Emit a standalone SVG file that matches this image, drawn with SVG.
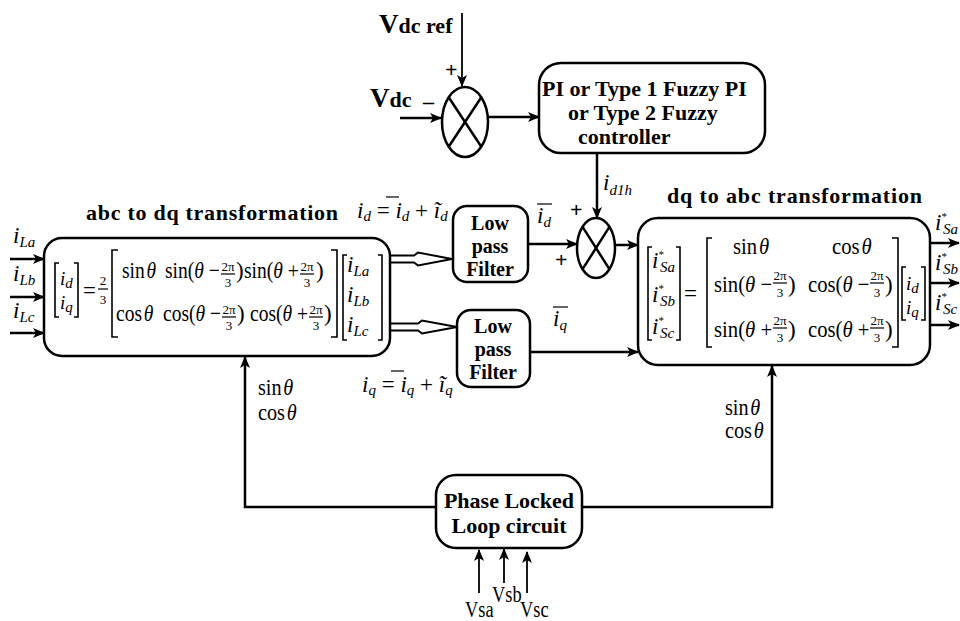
<svg xmlns="http://www.w3.org/2000/svg" width="960" height="621" viewBox="0 0 960 621">
<style>
text { font-family: "Liberation Serif", "Times New Roman", serif; fill: #000; }
.b { font-weight: bold; font-size: 22px; }
.f { font-weight: bold; font-size: 20px; text-anchor: middle; }
.m { font-size: 23px; }
.v { font-size: 19px; }
.i { font-style: italic; }
.s { font-size: 15px; font-style: italic; }
.fr { font-size: 13px; text-anchor: middle; }
.bx { fill: #fff; stroke: #000; stroke-width: 2.5; }
.ln { fill: none; stroke: #000; stroke-width: 2.5; }
.th { fill: none; stroke: #000; stroke-width: 1.8; }
.br { fill: none; stroke: #000; stroke-width: 1.6; }
.fb { stroke: #000; stroke-width: 1.2; }
.ho { fill: #fff; stroke: #000; stroke-width: 2; }
</style>
<defs>
<marker id="ah" viewBox="0 0 12 10" refX="11" refY="5" markerWidth="12" markerHeight="10" markerUnits="userSpaceOnUse" orient="auto">
<path d="M0,0 L12,5 L0,10 L3,5 Z" fill="#000"/>
</marker>
</defs>

<g id="connectors">
<path class="th" d="M462,13 V86" marker-end="url(#ah)"/>
<path class="ln" d="M400,118 H441" marker-end="url(#ah)"/>
<path class="ln" d="M488,117 H539" marker-end="url(#ah)"/>
<path class="ln" d="M597,153 V218" marker-end="url(#ah)"/>
<path class="ln" d="M528,244 H577" marker-end="url(#ah)"/>
<path class="ln" d="M615,245 H638" marker-end="url(#ah)"/>
<path class="ln" d="M530,352 H638" marker-end="url(#ah)"/>
<path class="ho" d="M391,255.5 H414 L418,252.5 L452,259 L418,265.5 L414,262.5 H391"/>
<path class="ho" d="M391,323.5 H418 L422,320.5 L457,327 L422,333.5 L418,330.5 H391"/>
<path class="ln" d="M10,259 H44" marker-end="url(#ah)"/>
<path class="ln" d="M10,297 H44" marker-end="url(#ah)"/>
<path class="ln" d="M10,333 H44" marker-end="url(#ah)"/>
<path class="ln" d="M930,243 H959" marker-end="url(#ah)"/>
<path class="ln" d="M930,283 H959" marker-end="url(#ah)"/>
<path class="ln" d="M930,325 H959" marker-end="url(#ah)"/>
<path class="ln" d="M436,507 H245 V357" marker-end="url(#ah)"/>
<path class="ln" d="M582,507 H772 V366" marker-end="url(#ah)"/>
<path class="th" d="M479,593 V550" marker-end="url(#ah)"/>
<path class="th" d="M504,583 V549" marker-end="url(#ah)"/>
<path class="th" d="M527,593 V552" marker-end="url(#ah)"/>
</g>

<g id="vdc-ref">
<text x="379" y="33" class="b"><tspan font-size="27">V</tspan><tspan font-size="22">dc ref</tspan></text>
</g>

<g id="vdc">
<text x="370" y="107" class="b"><tspan font-size="27">V</tspan><tspan font-size="22">dc</tspan></text>
</g>

<g id="sum1">
<ellipse cx="465" cy="122" rx="23" ry="35" class="ln"/>
<line x1="448.7" y1="97.3" x2="481.3" y2="146.7" class="ln"/>
<line x1="448.7" y1="146.7" x2="481.3" y2="97.3" class="ln"/>
<text x="445" y="77" class="b" font-size="22">+</text>
<text x="423" y="109" class="b" font-size="20">–</text>
</g>

<g id="controller">
<rect x="539" y="63" width="226" height="90" rx="22" class="bx" stroke-width="3"/>
<text x="542" y="96" class="b">PI or  Type 1 Fuzzy PI</text>
<text x="568" y="120" class="b">or Type 2 Fuzzy</text>
<text x="578" y="144" class="b">controller</text>
</g>

<g id="sum2">
<ellipse cx="596" cy="248" rx="19" ry="30" class="ln"/>
<line x1="582.6" y1="226.8" x2="609.4" y2="269.2" class="ln"/>
<line x1="582.6" y1="269.2" x2="609.4" y2="226.8" class="ln"/>
<text x="570" y="217" class="b" font-size="22">+</text>
<text x="555" y="267" class="b" font-size="22">+</text>
<text x="603" y="190" class="m" font-size="22"><tspan class="i">i</tspan><tspan class="s" dy="5">d1h</tspan></text>
</g>

<g id="abc-to-dq">
<text x="86" y="220" class="b" textLength="252" lengthAdjust="spacing">abc to dq transformation</text>
<rect x="44" y="238" width="346" height="118" rx="18" class="bx"/>
<path class="br" d="M59,263 H55 V317 H59 M74,263 H78 V317 H74"/>
<text x="60" y="285" class="v"><tspan class="i">i</tspan><tspan class="s" dy="3">d</tspan></text>
<text x="60" y="309" class="v"><tspan class="i">i</tspan><tspan class="s" dy="3">q</tspan></text>
<text x="83" y="298" class="m">=</text>
<text x="103" y="285" class="fr" font-size="15">2</text>
<line x1="98" y1="289" x2="108" y2="289" class="fb"/>
<text x="103" y="304" class="fr" font-size="15">3</text>
<path class="br" d="M118,250 H112 V337 H118 M331,250 H337 V337 H331"/>
<text class="m" transform="translate(122,278) scale(.85,1)">sin<tspan class="i" dx="2">θ</tspan></text>
<text class="m" transform="translate(165,278) scale(.85,1)">sin(<tspan class="i">θ</tspan> −</text>
<text x="228" y="271" class="fr">2π</text><line x1="221" y1="274" x2="235" y2="274" class="fb"/><text x="228" y="287" class="fr">3</text>
<text x="236" y="278" class="m">)</text>
<text class="m" transform="translate(244,278) scale(.85,1)">sin(<tspan class="i">θ</tspan> +</text>
<text x="307" y="271" class="fr">2π</text><line x1="300" y1="274" x2="314" y2="274" class="fb"/><text x="307" y="287" class="fr">3</text>
<text x="316" y="278" class="m">)</text>
<text class="m" transform="translate(116,321) scale(.85,1)">cos<tspan class="i" dx="2">θ</tspan></text>
<text class="m" transform="translate(163,321) scale(.85,1)">cos(<tspan class="i">θ</tspan> −</text>
<text x="229" y="314" class="fr">2π</text><line x1="222" y1="317" x2="236" y2="317" class="fb"/><text x="229" y="330" class="fr">3</text>
<text x="237" y="321" class="m">)</text>
<text class="m" transform="translate(250,321) scale(.85,1)">cos(<tspan class="i">θ</tspan> +</text>
<text x="316" y="314" class="fr">2π</text><line x1="309" y1="317" x2="323" y2="317" class="fb"/><text x="316" y="330" class="fr">3</text>
<text x="324" y="321" class="m">)</text>
<path class="br" d="M347,255 H343 V340 H347 M378,255 H382 V340 H378"/>
<text x="347" y="272" class="m"><tspan class="i">i</tspan><tspan class="s" dy="4">La</tspan></text>
<text x="347" y="302" class="m"><tspan class="i">i</tspan><tspan class="s" dy="4">Lb</tspan></text>
<text x="347" y="332" class="m"><tspan class="i">i</tspan><tspan class="s" dy="4">Lc</tspan></text>
</g>

<g id="lpf1">
<rect x="453" y="206" width="75" height="76" rx="14" class="bx"/>
<text x="490" y="230" class="f">Low</text>
<text x="490" y="253" class="f">pass</text>
<text x="490" y="276" class="f">Filter</text>
</g>

<g id="lpf2">
<rect x="457" y="310" width="73" height="77" rx="14" class="bx"/>
<text x="493" y="333" class="f">Low</text>
<text x="493" y="356" class="f">pass</text>
<text x="493" y="379" class="f">Filter</text>
</g>

<g id="dq-to-abc">
<text x="667" y="203" class="b" textLength="255" lengthAdjust="spacing">dq to abc transformation</text>
<rect x="638" y="218" width="292" height="147" rx="20" class="bx"/>
<path class="br" d="M652,247 H648 V340 H652 M676,247 H680 V340 H676"/>
<text x="652" y="268" class="m"><tspan class="i">i</tspan><tspan font-size="11" dy="-10">*</tspan><tspan class="s" dx="-4" dy="14">Sa</tspan></text>
<text x="652" y="302" class="m"><tspan class="i">i</tspan><tspan font-size="11" dy="-10">*</tspan><tspan class="s" dx="-4" dy="14">Sb</tspan></text>
<text x="652" y="334" class="m"><tspan class="i">i</tspan><tspan font-size="11" dy="-10">*</tspan><tspan class="s" dx="-4" dy="14">Sc</tspan></text>
<text x="684" y="301" class="m">=</text>
<path class="br" d="M712,238 H707 V347 H712 M892,238 H898 V347 H892"/>
<text class="m" transform="translate(733,254) scale(.9,1)">sin<tspan class="i" dx="2">θ</tspan></text>
<text class="m" transform="translate(832,254) scale(.9,1)">cos<tspan class="i" dx="2">θ</tspan></text>
<text class="m" transform="translate(714,292) scale(.9,1)">sin(<tspan class="i">θ</tspan> −</text>
<text x="780" y="280" class="fr">2π</text><line x1="773" y1="283" x2="787" y2="283" class="fb"/><text x="780" y="297" class="fr">3</text>
<text x="788" y="292" class="m">)</text>
<text class="m" transform="translate(808,292) scale(.9,1)">cos(<tspan class="i">θ</tspan> −</text>
<text x="877" y="280" class="fr">2π</text><line x1="870" y1="283" x2="884" y2="283" class="fb"/><text x="877" y="297" class="fr">3</text>
<text x="885" y="292" class="m">)</text>
<text class="m" transform="translate(714,337) scale(.9,1)">sin(<tspan class="i">θ</tspan> +</text>
<text x="780" y="325" class="fr">2π</text><line x1="773" y1="328" x2="787" y2="328" class="fb"/><text x="780" y="342" class="fr">3</text>
<text x="788" y="337" class="m">)</text>
<text class="m" transform="translate(808,337) scale(.9,1)">cos(<tspan class="i">θ</tspan> +</text>
<text x="877" y="325" class="fr">2π</text><line x1="870" y1="328" x2="884" y2="328" class="fb"/><text x="877" y="342" class="fr">3</text>
<text x="885" y="337" class="m">)</text>
<path class="br" d="M906,267 H902 V320 H906 M921,267 H925 V320 H921"/>
<text x="906" y="290" class="v"><tspan class="i">i</tspan><tspan class="s" dy="3">d</tspan></text>
<text x="906" y="314" class="v"><tspan class="i">i</tspan><tspan class="s" dy="3">q</tspan></text>
</g>

<g id="pll">
<rect x="436" y="475" width="146" height="73" rx="20" class="bx"/>
<text x="509" y="508" class="b" text-anchor="middle">Phase Locked</text>
<text x="509" y="533" class="b" text-anchor="middle">Loop circuit</text>
</g>

<g id="labels">
<text x="357" y="218" class="m"><tspan class="i">i</tspan><tspan class="s" dy="3">d</tspan><tspan dy="-3"> = </tspan><tspan class="i">i</tspan><tspan class="s" dy="3">d</tspan><tspan dy="-3"> + </tspan><tspan class="i">ĩ</tspan><tspan class="s" dy="3">d</tspan></text>
<line x1="386" y1="197" x2="399" y2="197" class="fb" stroke-width="1.5"/>
<text x="362" y="392" class="m"><tspan class="i">i</tspan><tspan class="s" dy="3">q</tspan><tspan dy="-3"> = </tspan><tspan class="i">i</tspan><tspan class="s" dy="3">q</tspan><tspan dy="-3"> + </tspan><tspan class="i">ĩ</tspan><tspan class="s" dy="3">q</tspan></text>
<line x1="391" y1="371" x2="404" y2="371" class="fb" stroke-width="1.5"/>
<text x="537" y="223" class="m"><tspan class="i">i</tspan><tspan class="s" dy="4">d</tspan></text>
<line x1="537" y1="204" x2="552" y2="204" class="fb" stroke-width="1.5"/>
<text x="553" y="326" class="m"><tspan class="i">i</tspan><tspan class="s" dy="4">q</tspan></text>
<line x1="553" y1="307" x2="568" y2="307" class="fb" stroke-width="1.5"/>
<text x="13" y="243" class="m" font-size="24"><tspan class="i">i</tspan><tspan class="s" dy="4" font-size="16">La</tspan></text>
<text x="13" y="281" class="m" font-size="24"><tspan class="i">i</tspan><tspan class="s" dy="4" font-size="16">Lb</tspan></text>
<text x="13" y="318" class="m" font-size="24"><tspan class="i">i</tspan><tspan class="s" dy="4" font-size="16">Lc</tspan></text>
<text x="935" y="230" class="m" font-size="22"><tspan class="i">i</tspan><tspan font-size="11" dy="-10">*</tspan><tspan class="s" dx="-4" dy="14">Sa</tspan></text>
<text x="935" y="270" class="m" font-size="22"><tspan class="i">i</tspan><tspan font-size="11" dy="-10">*</tspan><tspan class="s" dx="-4" dy="14">Sb</tspan></text>
<text x="935" y="310" class="m" font-size="22"><tspan class="i">i</tspan><tspan font-size="11" dy="-10">*</tspan><tspan class="s" dx="-4" dy="14">Sc</tspan></text>
<text class="m" transform="translate(258,395) scale(.88,1)">sin<tspan class="i" dx="2">θ</tspan></text>
<text class="m" transform="translate(258,420) scale(.88,1)">cos<tspan class="i" dx="2">θ</tspan></text>
<text class="m" transform="translate(725,415) scale(.88,1)">sin<tspan class="i" dx="2">θ</tspan></text>
<text class="m" transform="translate(725,438) scale(.88,1)">cos<tspan class="i" dx="2">θ</tspan></text>
<text class="m" font-size="22" transform="translate(465,617) scale(.8,1)">Vsa</text>
<text class="m" font-size="22" transform="translate(492,602) scale(.8,1)">Vsb</text>
<text class="m" font-size="22" transform="translate(520,617) scale(.8,1)">Vsc</text>
</g>
</svg>
